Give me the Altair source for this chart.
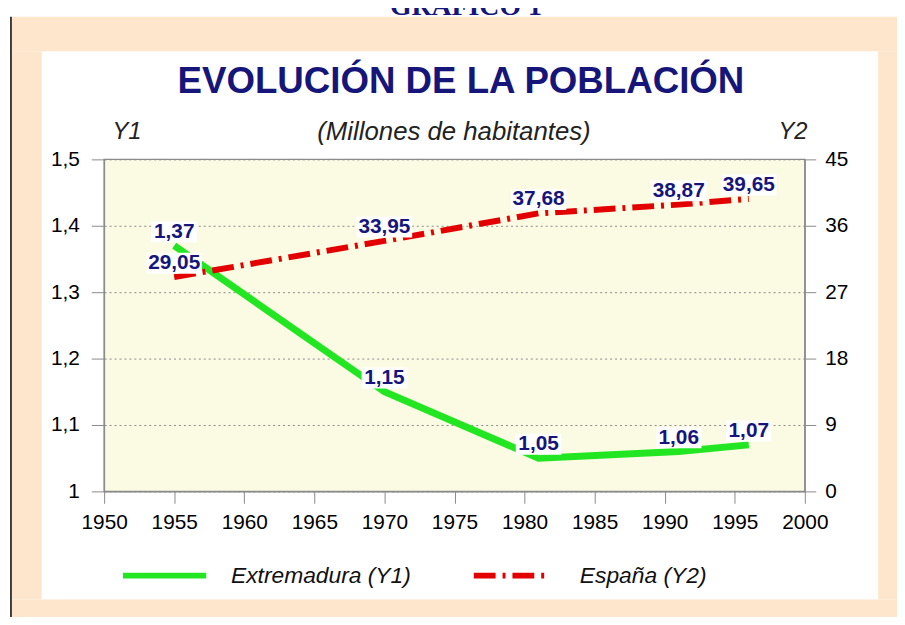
import altair as alt
import pandas as pd

# ---- data ----
years = [1955, 1970, 1981, 1991, 1996]
extremadura = [1.37, 1.15, 1.05, 1.06, 1.07]   # Y1, millions
espana = [29.05, 33.95, 37.68, 38.87, 39.65]    # Y2, millions
y1_ticks = [1.0, 1.1, 1.2, 1.3, 1.4, 1.5]
y2_ticks = [0, 9, 18, 27, 36, 45]
x_ticks = [1950, 1955, 1960, 1965, 1970, 1975, 1980, 1985, 1990, 1995, 2000]


def lab(v):
    return f"{v:.2f}".replace(".", ",")


df_ext = pd.DataFrame({"year": years, "value": extremadura, "label": [lab(v) for v in extremadura]})
df_esp = pd.DataFrame({"year": years, "value": espana, "label": [lab(v) for v in espana]})

PEACH = "#FEE6CD"
NAVY = "#16167A"
GREEN = "#22E622"
RED = "#E30000"
GREY = "#8a8a8a"
FONT = "Liberation Sans"

x_enc = alt.X(
    "year:Q",
    scale=alt.Scale(domain=[1950, 2000], nice=False, zero=False),
    axis=alt.Axis(values=x_ticks, format="d", title=None, grid=False, tickSize=12,
                  labelPadding=8, labelFontSize=21, labelColor="black", labelFont=FONT,
                  domainColor=GREY, tickColor=GREY, labelFlush=False, labelOverlap=False),
)
y1_enc = alt.Y(
    "value:Q",
    scale=alt.Scale(domain=[1.0, 1.5], nice=False, zero=False),
    axis=alt.Axis(orient="left", values=y1_ticks, title=None,
                  labelExpr="replace(format(datum.value, '.1~f'), '.', ',')",
                  grid=True, gridDash=[2, 3], gridColor=GREY, gridWidth=1,
                  tickSize=13, labelPadding=12, labelFontSize=21, labelColor="black",
                  labelFont=FONT, domainColor=GREY, tickColor=GREY, labelFlush=False),
)
y2_enc = alt.Y(
    "value:Q",
    scale=alt.Scale(domain=[0, 45], nice=False, zero=True),
    axis=alt.Axis(orient="right", values=y2_ticks, title=None, format="d", grid=False,
                  tickSize=11, labelPadding=9, labelFontSize=21, labelColor="black",
                  labelFont=FONT, domainColor=GREY, tickColor=GREY, labelFlush=False),
)

BOX_EXT = "M-1,-0.46L1,-0.46L1,0.46L-1,0.46Z"
BOX_ESP = "M-1,-0.38L1,-0.38L1,0.38L-1,0.38Z"

ext_line = alt.Chart(df_ext).mark_line(color=GREEN, strokeWidth=7).encode(x=x_enc, y=y1_enc)
ext_box = alt.Chart(df_ext).mark_point(shape=BOX_EXT, size=2116, filled=True, color="white",
                                       opacity=1, yOffset=-14).encode(x=x_enc, y=y1_enc)
ext_text = alt.Chart(df_ext).mark_text(dy=-14, fontSize=21, fontWeight="bold", color=NAVY,
                                       font=FONT).encode(x=x_enc, y=y1_enc, text="label:N")
ext = alt.layer(ext_line, ext_box, ext_text)

esp_line = alt.Chart(df_esp).mark_line(color=RED, strokeWidth=6, strokeDash=[22, 7, 3, 7]).encode(
    x=x_enc, y=y2_enc)
esp_box = alt.Chart(df_esp).mark_point(shape=BOX_ESP, size=3136, filled=True, color="white",
                                       opacity=1, yOffset=-14).encode(x=x_enc, y=y2_enc)
esp_text = alt.Chart(df_esp).mark_text(dy=-14, fontSize=21, fontWeight="bold", color=NAVY,
                                       font=FONT).encode(x=x_enc, y=y2_enc, text="label:N")
esp = alt.layer(esp_line, esp_box, esp_text)

base = alt.Chart(pd.DataFrame({"d": [0]}))


def rect(x, x2, y, y2, color):
    return base.mark_rect(color=color).encode(
        x=alt.value(x), x2=alt.value(x2), y=alt.value(y), y2=alt.value(y2))


def text(t, x, y, size, color="black", weight="normal", style="normal", font=FONT,
         align="center", baseline="middle"):
    return base.mark_text(text=t, fontSize=size, fontWeight=weight, fontStyle=style, font=font,
                          color=color, align=align, baseline=baseline).encode(
        x=alt.value(x), y=alt.value(y))


decor = [
    # peach frame around the white panel
    rect(-93, 800, -144, -109, PEACH),
    rect(-93, 800, 444, 470, PEACH),
    rect(-93, -63, -109, 444, PEACH),
    rect(781, 800, -109, 444, PEACH),
    base.mark_rule(color="black", strokeWidth=1.5).encode(
        x=alt.value(-94), y=alt.value(-144), y2=alt.value(470)),
    text("GRÁFICO 1", 365, -146, 28, color=NAVY, weight="bold", font="Liberation Serif",
         baseline="alphabetic"),
    text("EVOLUCIÓN DE LA POBLACIÓN", 360, -67, 37, color=NAVY, weight="bold",
         baseline="alphabetic"),
    text("Y1", 23, -28, 24, style="italic", color="#222222"),
    text("(Millones de habitantes)", 353, -28, 26, style="italic", color="#222222"),
    text("Y2", 695, -28, 24, style="italic", color="#222222"),
    # legend
    base.mark_rule(color=GREEN, strokeWidth=6).encode(
        x=alt.value(19), x2=alt.value(103), y=alt.value(420)),
    base.mark_rule(color=RED, strokeWidth=6, strokeDash=[22, 7, 3, 7]).encode(
        x=alt.value(373), x2=alt.value(447), y=alt.value(420)),
    text("Extremadura (Y1)", 128, 420, 23, style="italic", color="#111111", align="left"),
    text("España (Y2)", 480, 420, 23, style="italic", color="#111111", align="left"),
]

chart = alt.layer(*decor, ext, esp).resolve_scale(y="independent").properties(
    width=707,
    height=335,
    padding={"left": 97, "top": 150, "right": 93, "bottom": 124},
    autosize=alt.AutoSizeParams(type="none"),
    background="white",
).configure_view(stroke=GREY, strokeWidth=1.5, fill="#FBFBE3")

chart.save("out.html", embed_options={"renderer": "svg", "actions": False})
